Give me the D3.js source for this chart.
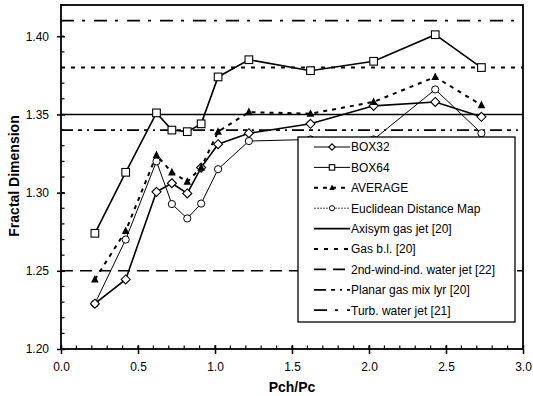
<!DOCTYPE html>
<html><head><meta charset="utf-8">
<script src="https://cdn.jsdelivr.net/npm/d3@7"></script>
<style>body{margin:0;background:#fff}svg{display:block}text{font-family:"Liberation Sans",Arial,sans-serif}</style>
</head><body><svg id="c" width="533" height="396"></svg>
<script>
const xVals = [0.22, 0.42, 0.62, 0.72, 0.82, 0.91, 1.02, 1.22, 1.62, 2.03, 2.43, 2.73];
const box32 = [1.229, 1.2445, 1.3005, 1.306, 1.2995, 1.316, 1.331, 1.338, 1.344, 1.3555, 1.358, 1.3485];
const box64 = [1.274, 1.313, 1.351, 1.340, 1.339, 1.344, 1.374, 1.385, 1.378, 1.384, 1.401, 1.380];
const average = [1.2445, 1.2755, 1.324, 1.313, 1.307, 1.316, 1.339, 1.3515, 1.3505, 1.358, 1.374, 1.356];
const edm = [1.229, 1.270, 1.320, 1.2927, 1.2835, 1.293, 1.315, 1.333, 1.334, 1.334, 1.366, 1.338];
const refNames = ["Axisym gas jet [20]", "Gas b.l. [20]", "2nd-wind-ind. water jet [22]", "Planar gas mix lyr [20]", "Turb. water jet [21]"];
const refValues = [1.35, 1.38, 1.25, 1.34, 1.41];
const xTicks = [0.0, 0.5, 1.0, 1.5, 2.0, 2.5, 3.0];
const yTicks = [1.20, 1.25, 1.30, 1.35, 1.40];

const svg = d3.select("#c");
const L = 61, R = 523, T = 5, B = 349;
const x = d3.scaleLinear().domain([0, 3]).range([L, R]);
const y = d3.scaleLinear().domain([1.20, 1.42]).range([B, T]);

const refDash = ["none", "4,6", "12,7", "12,5,4,5,2,5", "13,8,3,9"];
const refWidth = [1.6, 2, 1.6, 1.8, 1.8];

// reference lines
const refG = svg.append("g");
refValues.forEach((v, i) => {
  refG.append("line").attr("x1", L).attr("x2", R).attr("y1", y(v)).attr("y2", y(v))
    .attr("stroke", "#000").attr("stroke-width", refWidth[i])
    .attr("stroke-dasharray", refDash[i] === "none" ? null : refDash[i]);
});

// axes
const xMinor = d3.range(0, 3.0001, 0.1);
const yMinor = d3.range(1.20, 1.42001, 0.01);
const ax = svg.append("g");
xMinor.forEach(v => ax.append("line").attr("x1", x(v)).attr("x2", x(v)).attr("y1", B).attr("y2", B - 3.5).attr("stroke", "#000").attr("stroke-width", 1.2));
yMinor.forEach(v => ax.append("line").attr("x1", L).attr("x2", L + 3.5).attr("y1", y(v)).attr("y2", y(v)).attr("stroke", "#000").attr("stroke-width", 1.2));
const xAxis = d3.axisBottom(x).tickValues(xTicks).tickFormat(d3.format(".1f")).tickSizeInner(5).tickSizeOuter(0).tickPadding(8);
const gx = svg.append("g").attr("transform", `translate(0,${B})`).call(xAxis);
gx.select(".domain").remove();
gx.selectAll(".tick line").attr("y1", -4).attr("stroke-width", 1.5);
gx.selectAll("text").attr("font-size", 12).attr("fill", "#000").style("font-family", '"Liberation Sans",Arial,sans-serif');
const yAxis = d3.axisLeft(y).tickValues(yTicks).tickFormat(d3.format(".2f")).tickSizeInner(4).tickSizeOuter(0).tickPadding(8);
const gy = svg.append("g").attr("transform", `translate(${L},0)`).call(yAxis);
gy.select(".domain").remove();
gy.selectAll(".tick line").attr("x1", 4).attr("stroke-width", 1.5);
gy.selectAll("text").attr("font-size", 12).attr("fill", "#000").style("font-family", '"Liberation Sans",Arial,sans-serif');

svg.append("rect").attr("x", L).attr("y", T).attr("width", R - L).attr("height", B - T)
  .attr("fill", "none").attr("stroke", "#000").attr("stroke-width", 1.8);

svg.append("text").attr("x", 292).attr("y", 392).attr("text-anchor", "middle")
  .attr("font-size", 14).attr("font-weight", "bold").text("Pch/Pc");
svg.append("text").attr("transform", "translate(19,176) rotate(-90)").attr("text-anchor", "middle")
  .attr("font-size", 14).attr("font-weight", "bold").text("Fractal Dimension");

// series
const series = [
  {name: "BOX32", vals: box32, dash: null, w: 1.6, marker: "diamond"},
  {name: "BOX64", vals: box64, dash: null, w: 1.6, marker: "square"},
  {name: "AVERAGE", vals: average, dash: "4,5", w: 2, marker: "triangle"},
  {name: "Euclidean Distance Map", vals: edm, dash: null, w: 1, marker: "circle"}
];
const drawOrder = [3, 0, 2, 1];
const line = d3.line().x(d => x(d[0])).y(d => y(d[1]));
function marker(g, type, cx, cy, s) {
  if (type === "diamond") {
    g.append("path").attr("d", `M${cx},${cy - s}L${cx + s},${cy}L${cx},${cy + s}L${cx - s},${cy}Z`)
      .attr("fill", "#fff").attr("stroke", "#000").attr("stroke-width", 1.1);
  } else if (type === "square") {
    g.append("rect").attr("x", cx - s * 0.85).attr("y", cy - s * 0.85).attr("width", s * 1.7).attr("height", s * 1.7)
      .attr("fill", "#fff").attr("stroke", "#000").attr("stroke-width", 1.1);
  } else if (type === "triangle") {
    g.append("path").attr("d", `M${cx},${cy - s}L${cx + s * 0.85},${cy + s * 0.7}L${cx - s * 0.85},${cy + s * 0.7}Z`)
      .attr("fill", "#000");
  } else {
    g.append("circle").attr("cx", cx).attr("cy", cy).attr("r", s * 0.8)
      .attr("fill", "#fff").attr("stroke", "#000").attr("stroke-width", 1);
  }
}
const sg = svg.append("g");
drawOrder.forEach(i => {
  const s = series[i];
  const pts = xVals.map((xv, j) => [xv, s.vals[j]]);
  sg.append("path").attr("d", line(pts)).attr("fill", "none").attr("stroke", "#000")
    .attr("stroke-width", s.w).attr("stroke-dasharray", s.dash);
});
drawOrder.forEach(i => {
  const s = series[i];
  xVals.forEach((xv, j) => marker(sg, s.marker, x(xv), y(s.vals[j]), 4.5));
});

// legend
const lg = svg.append("g");
lg.append("rect").attr("x", 298).attr("y", 137).attr("width", 217).attr("height", 185)
  .attr("fill", "#fff").attr("stroke", "#000").attr("stroke-width", 1.3);
const rowY0 = 147, rowDy = 20.4;
series.forEach((s, i) => {
  const yy = rowY0 + i * rowDy;
  lg.append("line").attr("x1", 314).attr("x2", 350).attr("y1", yy).attr("y2", yy)
    .attr("stroke", s.name === "Euclidean Distance Map" ? "#555" : "#000")
    .attr("stroke-width", s.name === "AVERAGE" ? 2 : 1)
    .attr("stroke-dasharray", s.name === "AVERAGE" ? "4,5" : (s.name === "Euclidean Distance Map" ? "2,1" : null));
  marker(lg, s.marker, 332, yy, 3.2);
  lg.append("text").attr("x", 351).attr("y", yy + 4.3).attr("font-size", 12).text(s.name);
});
refNames.forEach((n, i) => {
  const yy = rowY0 + (i + 4) * rowDy;
  lg.append("line").attr("x1", 314).attr("x2", 350).attr("y1", yy).attr("y2", yy)
    .attr("stroke", "#000").attr("stroke-width", refWidth[i])
    .attr("stroke-dasharray", refDash[i] === "none" ? null : refDash[i]);
  lg.append("text").attr("x", 351).attr("y", yy + 4.3).attr("font-size", 12).text(n);
});
</script></body></html>
